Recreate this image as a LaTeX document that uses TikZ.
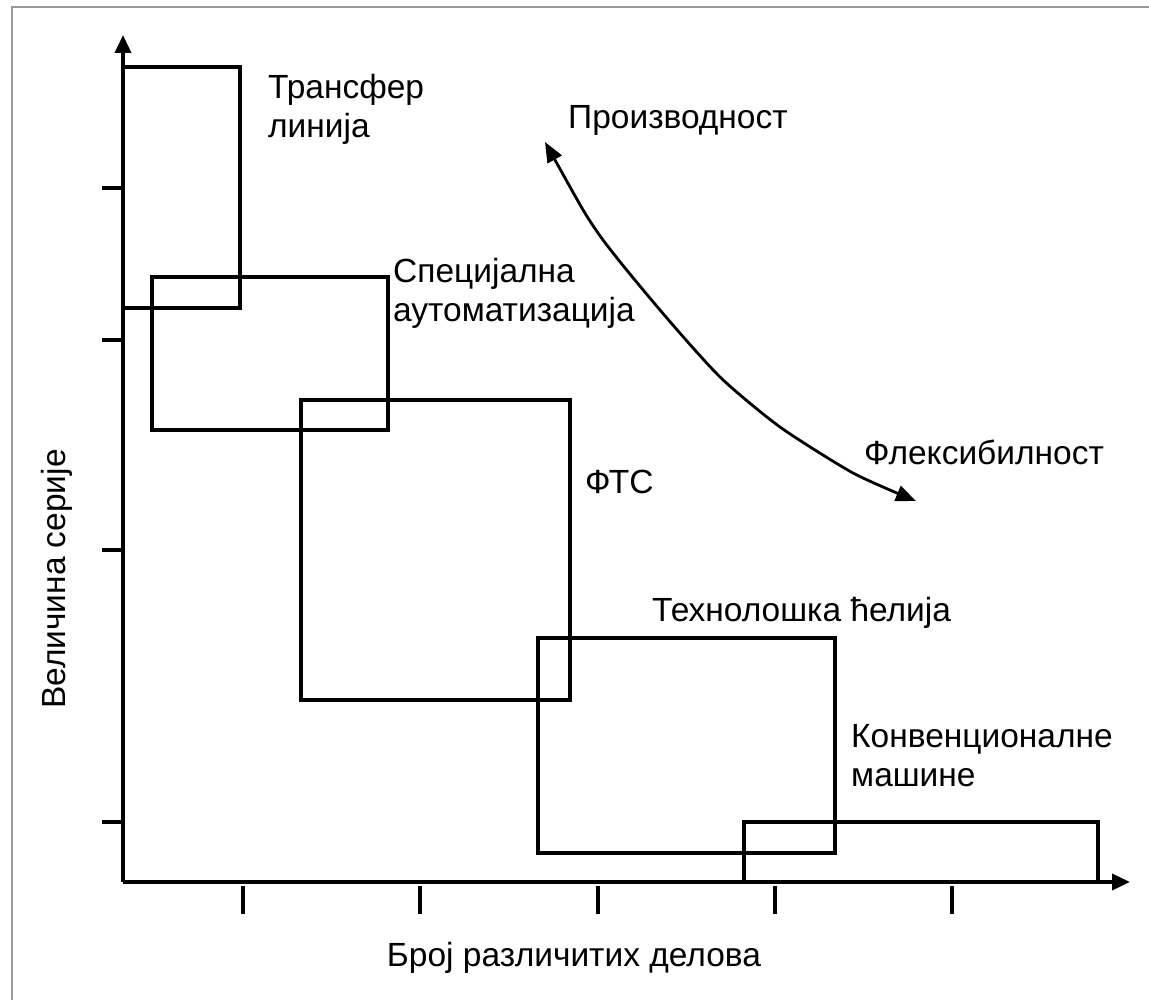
\documentclass[tikz,border=0pt]{standalone}
\usepackage{fontspec}
\setmainfont{Liberation Sans}
\usetikzlibrary{arrows.meta}
\begin{document}
\begin{tikzpicture}[x=1pt,y=-1pt,
  axis/.style={line width=3.6pt,-{Triangle[length=18pt,width=16pt]}},
  tick/.style={line width=3.4pt},
  area/.style={draw=black,line width=3.2pt},
  lbl/.style={anchor=base west,inner sep=0pt,align=left,
    font=\fontsize{33.5}{38.5}\selectfont},
  trend/.style={line width=2.8pt,{Triangle[length=20pt,width=16pt]}-{Triangle[length=20pt,width=16pt]}}]
  \useasboundingbox (0,0) rectangle (1149,1000);
  \fill[white] (0,0) rectangle (1149,1000);
  % frame lines along the top and left edge
  \draw[line width=2pt,color=black!40] (12,1000) -- (12,7) -- (1149,7);

  % ranges of the production systems
  \draw[area] (123,67) rectangle (240,308);
  \draw[area] (152,277) rectangle (388,430);
  \draw[area] (301,400) rectangle (570,700);
  \draw[area] (538,638) rectangle (835,853);
  \draw[area] (744,822) rectangle (1098,882);

  % axes
  \coordinate (O) at (123,882);
  \coordinate (ytop) at (123,35);
  \coordinate (xend) at (1130,882);
  \draw[axis] (O) -- (ytop);
  \draw[axis] (O) -- (xend);
  \foreach \yy in {188,340,550,822} \draw[tick] (102,\yy) -- (123,\yy);
  \foreach \xx in {243,420,598,775,952} \draw[tick] (\xx,886) -- (\xx,914);

  % axis titles
  \node[lbl,anchor=base] (xlab) at (574,966) {Број различитих делова};
  \node[lbl,anchor=base,rotate=90] (ylab) at (65,579) {Величина серије};

  % system labels (base anchor sits on the last line)
  \node[lbl] (transfer) at (268,137.5) {Трансфер\\линија};
  \node[lbl] (special) at (393,321.5) {Специјална\\аутоматизација};
  \node[lbl] (fts) at (585,493) {ФТС};
  \node[lbl] (cell) at (652,621) {Технолошка ћелија};
  \node[lbl] (conv) at (851,786) {Конвенционалне\\машине};

  % trade-off curve
  \node[lbl] (prod) at (568,129) {Производност};
  \node[lbl] (flex) at (864,464) {Флексибилност};
  \coordinate (pEnd) at (545,142);
  \coordinate (fEnd) at (916,501);
  \draw[trend] plot[smooth,tension=0.4] coordinates
    {(pEnd) (598,233) (660,310) (720,377) (780,427) (853,473) (fEnd)};
\end{tikzpicture}
\end{document}
